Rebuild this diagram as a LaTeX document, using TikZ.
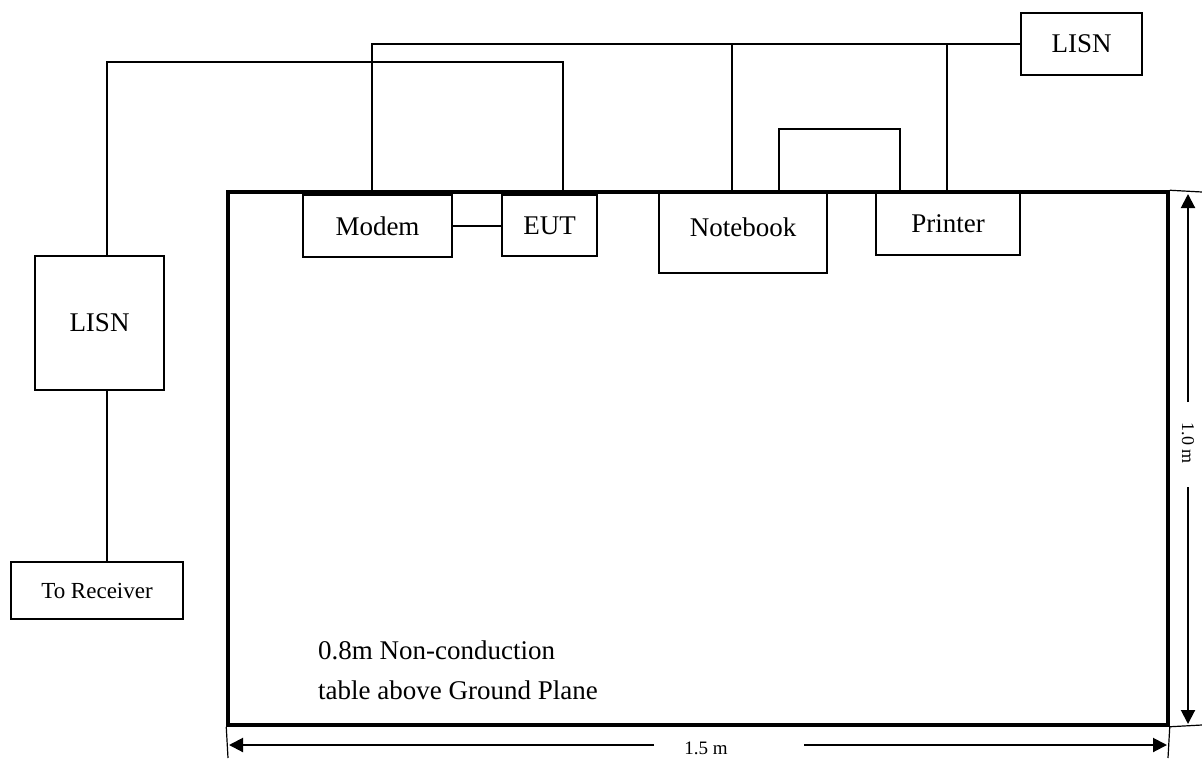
\documentclass[tikz,border=0pt]{standalone}
\usepackage{fontspec}
\setmainfont{Liberation Serif}
\usetikzlibrary{arrows.meta,positioning}

\begin{document}
\begin{tikzpicture}[
  x=1pt,y=-1pt,
  unit/.style={rectangle,draw,line width=2pt,inner sep=0pt,font=\fontsize{27}{32}\selectfont},
  wire/.style={line width=2pt},
  dimline/.style={line width=2pt,-{Triangle[length=14pt,width=14pt]}},
  extline/.style={line width=1.2pt}
]
\useasboundingbox (0,0) rectangle (1202,758);
% table
\node[rectangle,draw,line width=3.5pt,minimum width=940pt,minimum height=533pt] (table) at (698,458.5) {};
\node[anchor=north west,inner sep=0pt,align=left,font=\fontsize{27}{40}\selectfont] (tabletext) at (318,641) {0.8m Non-conduction\\table above Ground Plane};
% equipment
\node[unit,minimum width=149pt,minimum height=62pt] (modem) at (377.5,226) {Modem};
\node[unit,minimum width=95pt,minimum height=61pt] (eut) at (549.5,225.5) {EUT};
\node[unit,minimum width=168pt,minimum height=80pt,text depth=12pt] (notebook) at (743,233) {Notebook};
\node[unit,minimum width=144pt,minimum height=62pt] (printer) at (948,224) {Printer};
\node[unit,minimum width=121pt,minimum height=62pt] (lisnA) at (1081.5,44) {LISN};
\node[unit,minimum width=129pt,minimum height=134pt] (lisnB) at (99.5,323) {LISN};
\node[unit,minimum width=172pt,minimum height=57pt,font=\fontsize{23}{28}\selectfont] (rx) at (97,590.5) {To Receiver};
% tap points on the table edge
\coordinate (mtap) at (372,192);
\coordinate (etap) at (563,192);
\coordinate (ntap) at (732,192);
\coordinate (loopA) at (779,192);
\coordinate (loopB) at (900,192);
\coordinate (ptap) at (947,192);
\coordinate (feed) at (107,62);
% cables
\draw[wire] (modem.east) -- (modem.east -| eut.west);
\draw[wire] (mtap) |- (lisnA.west);
\draw[wire] (ntap) -- (ntap |- lisnA.west);
\draw[wire] (ptap) -- (ptap |- lisnA.west);
\draw[wire] (loopA) -- ++(0,-63) -| (loopB);
\draw[wire] (etap) |- (feed) -- (feed |- lisnB.north);
\draw[wire] (feed |- lisnB.south) -- (feed |- rx.north);
% dimensions
\draw[extline] (table.north east) -- (1202,192);
\draw[extline] (table.south east) -- (1202,725);
\draw[extline] (table.south west) -- (228,758);
\draw[extline] (table.south east) -- (1168,758);
\node[rotate=-90,inner sep=0pt,font=\fontsize{18}{20}\selectfont] (hlabel) at (1188,443) {1.0 m};
\coordinate (htop) at (1188,402);
\coordinate (hbot) at (1188,487);
\draw[dimline] (htop) -- (1188,194);
\draw[dimline] (hbot) -- (1188,724);
\node[inner sep=0pt,font=\fontsize{19}{22}\selectfont] (wlabel) at (706,748) {1.5 m};
\coordinate (wleft) at (654,745);
\coordinate (wright) at (804,745);
\draw[dimline] (wleft) -- (229,745);
\draw[dimline] (wright) -- (1167,745);
\end{tikzpicture}
\end{document}
